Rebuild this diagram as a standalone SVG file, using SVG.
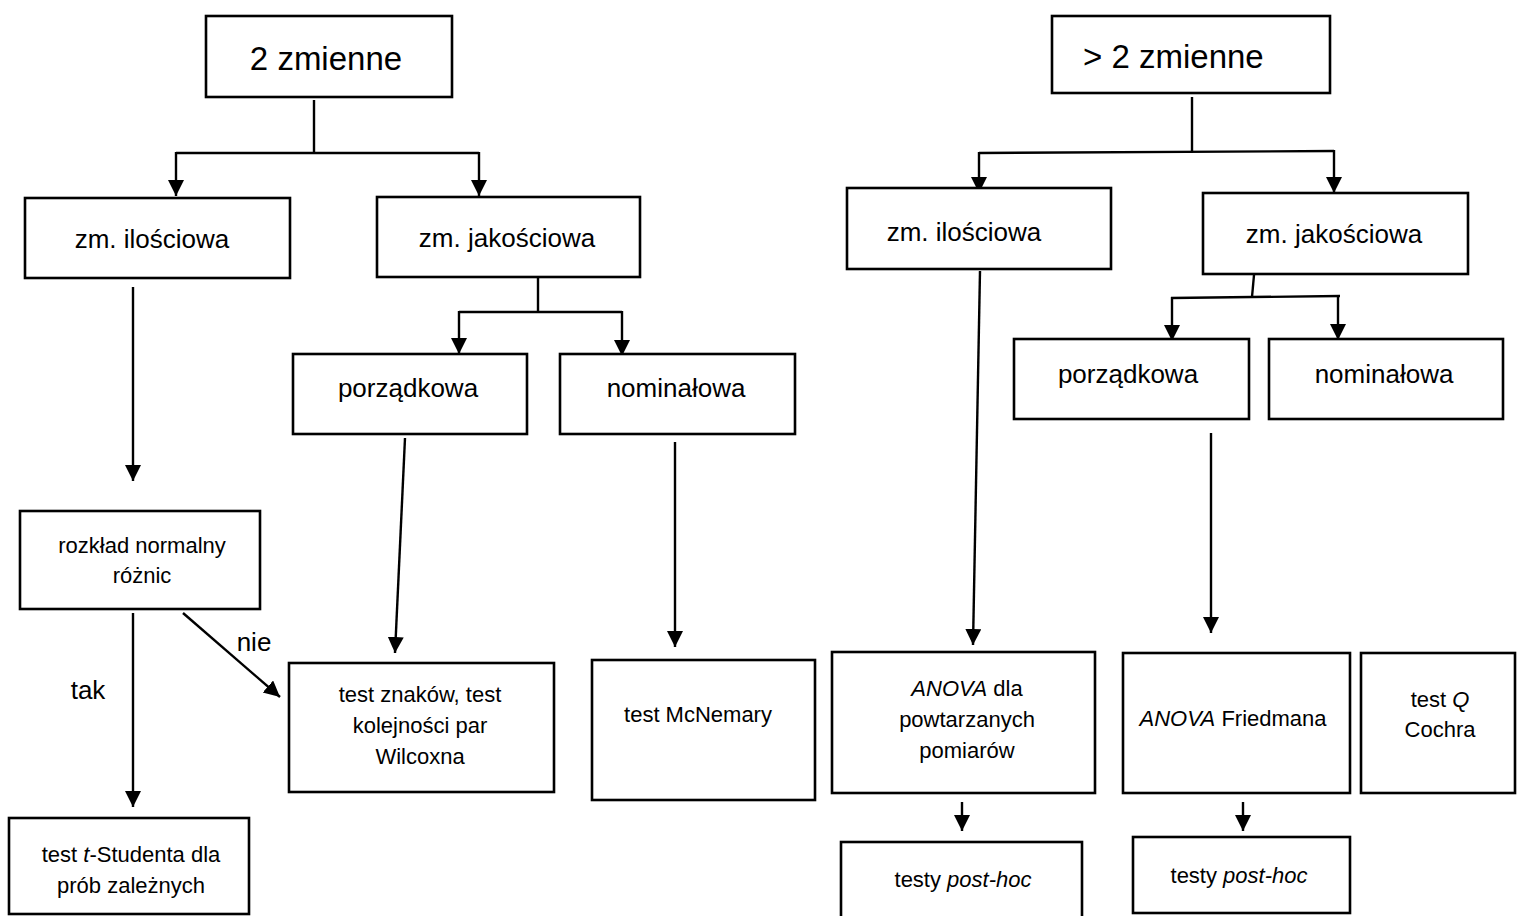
<svg xmlns="http://www.w3.org/2000/svg" width="1517" height="916" viewBox="0 0 1517 916">
<style>
.box{fill:#fff;stroke:#000;stroke-width:2.6}
.ln{fill:none;stroke:#000;stroke-width:2.4}
.ar{fill:none;stroke:#000;stroke-width:2.4;marker-end:url(#ah)}
text{font-family:"Liberation Sans",Arial,sans-serif;fill:#000;text-anchor:middle}
.big{font-size:33px}
.mid{font-size:26px}
.sm{font-size:22px}
.it{font-style:italic}
</style>
<defs>
<marker id="ah" markerUnits="userSpaceOnUse" markerWidth="17" markerHeight="17" refX="16" refY="8" orient="auto">
<path d="M0,0 L16,8 L0,16 Z" fill="#000"/>
</marker>
</defs>
<rect width="1517" height="916" fill="#fff"/>
<g id="connectors">
<line class="ln" x1="314" y1="100" x2="314" y2="153"/>
<line class="ln" x1="176" y1="153" x2="479" y2="153"/>
<line class="ar" x1="176" y1="152" x2="176" y2="196"/>
<line class="ar" x1="479" y1="152" x2="479" y2="196"/>
<line class="ln" x1="538" y1="277" x2="538" y2="312"/>
<line class="ln" x1="459" y1="312" x2="622" y2="312"/>
<line class="ar" x1="459" y1="311" x2="459" y2="354"/>
<line class="ar" x1="622" y1="311" x2="622" y2="356"/>
<line class="ar" x1="133" y1="287" x2="133" y2="481"/>
<line class="ar" x1="405" y1="438" x2="395" y2="653"/>
<line class="ar" x1="675" y1="442" x2="675" y2="647"/>
<line class="ar" x1="133" y1="613" x2="133" y2="807"/>
<line class="ar" x1="183" y1="613" x2="280" y2="697"/>
<line class="ln" x1="1192" y1="97" x2="1192" y2="152"/>
<line class="ln" x1="979" y1="153" x2="1334" y2="151"/>
<line class="ar" x1="979" y1="152" x2="979" y2="193"/>
<line class="ar" x1="1334" y1="150" x2="1334" y2="193"/>
<line class="ln" x1="1254" y1="275" x2="1252" y2="297"/>
<line class="ln" x1="1171" y1="298" x2="1340" y2="296"/>
<line class="ar" x1="1172" y1="297" x2="1172" y2="341"/>
<line class="ar" x1="1338" y1="295" x2="1338" y2="340"/>
<line class="ar" x1="980" y1="271" x2="973" y2="645"/>
<line class="ar" x1="1211" y1="433" x2="1211" y2="633"/>
<line class="ar" x1="962" y1="802" x2="962" y2="831"/>
<line class="ar" x1="1243" y1="802" x2="1243" y2="831"/>
</g>
<text class="mid" x="254" y="651">nie</text>
<text class="mid" x="88" y="699">tak</text>
<g id="n-2zm"><rect class="box" x="206" y="16" width="246" height="81"/><text class="big" x="326" y="70">2 zmienne</text></g>
<g id="n-il-l"><rect class="box" x="25" y="198" width="265" height="80"/><text class="mid" x="152" y="248">zm. ilościowa</text></g>
<g id="n-jak-l"><rect class="box" x="377" y="197" width="263" height="80"/><text class="mid" x="507" y="247">zm. jakościowa</text></g>
<g id="n-por-l"><rect class="box" x="293" y="354" width="234" height="80"/><text class="mid" x="408" y="397">porządkowa</text></g>
<g id="n-nom-l"><rect class="box" x="560" y="354" width="235" height="80"/><text class="mid" x="676" y="397">nominałowa</text></g>
<g id="n-rozk"><rect class="box" x="20" y="511" width="240" height="98"/><text class="sm" x="142" y="553">rozkład normalny</text><text class="sm" x="142" y="583">różnic</text></g>
<g id="n-wilc"><rect class="box" x="289" y="663" width="265" height="129"/><text class="sm" x="420" y="702">test znaków, test</text><text class="sm" x="420" y="733">kolejności par</text><text class="sm" x="420" y="764">Wilcoxna</text></g>
<g id="n-mcn"><rect class="box" x="592" y="660" width="223" height="140"/><text class="sm" x="698" y="722">test McNemary</text></g>
<g id="n-tst"><rect class="box" x="9" y="818" width="240" height="96"/><text class="sm" x="131" y="862">test <tspan class="it">t</tspan>-Studenta dla</text><text class="sm" x="131" y="893">prób zależnych</text></g>
<g id="n-gt2"><rect class="box" x="1052" y="16" width="278" height="77"/><text class="big" x="1083" y="68" style="text-anchor:start">&gt; 2 zmienne</text></g>
<g id="n-il-r"><rect class="box" x="847" y="188" width="264" height="81"/><text class="mid" x="964" y="241">zm. ilościowa</text></g>
<g id="n-jak-r"><rect class="box" x="1203" y="193" width="265" height="81"/><text class="mid" x="1334" y="243">zm. jakościowa</text></g>
<g id="n-por-r"><rect class="box" x="1014" y="339" width="235" height="80"/><text class="mid" x="1128" y="383">porządkowa</text></g>
<g id="n-nom-r"><rect class="box" x="1269" y="339" width="234" height="80"/><text class="mid" x="1384" y="383">nominałowa</text></g>
<g id="n-anova"><rect class="box" x="832" y="652" width="263" height="141"/><text class="sm" x="967" y="696"><tspan class="it">ANOVA</tspan> dla</text><text class="sm" x="967" y="727">powtarzanych</text><text class="sm" x="967" y="758">pomiarów</text></g>
<g id="n-fried"><rect class="box" x="1123" y="653" width="227" height="140"/><text class="sm" x="1233" y="726"><tspan class="it">ANOVA</tspan> Friedmana</text></g>
<g id="n-coch"><rect class="box" x="1361" y="653" width="154" height="140"/><text class="sm" x="1440" y="707">test <tspan class="it">Q</tspan></text><text class="sm" x="1440" y="737">Cochra</text></g>
<g id="n-ph1"><rect class="box" x="841" y="842" width="241" height="80"/><text class="sm" x="963" y="887">testy <tspan class="it">post-hoc</tspan></text></g>
<g id="n-ph2"><rect class="box" x="1133" y="837" width="217" height="76"/><text class="sm" x="1239" y="883">testy <tspan class="it">post-hoc</tspan></text></g>
</svg>
